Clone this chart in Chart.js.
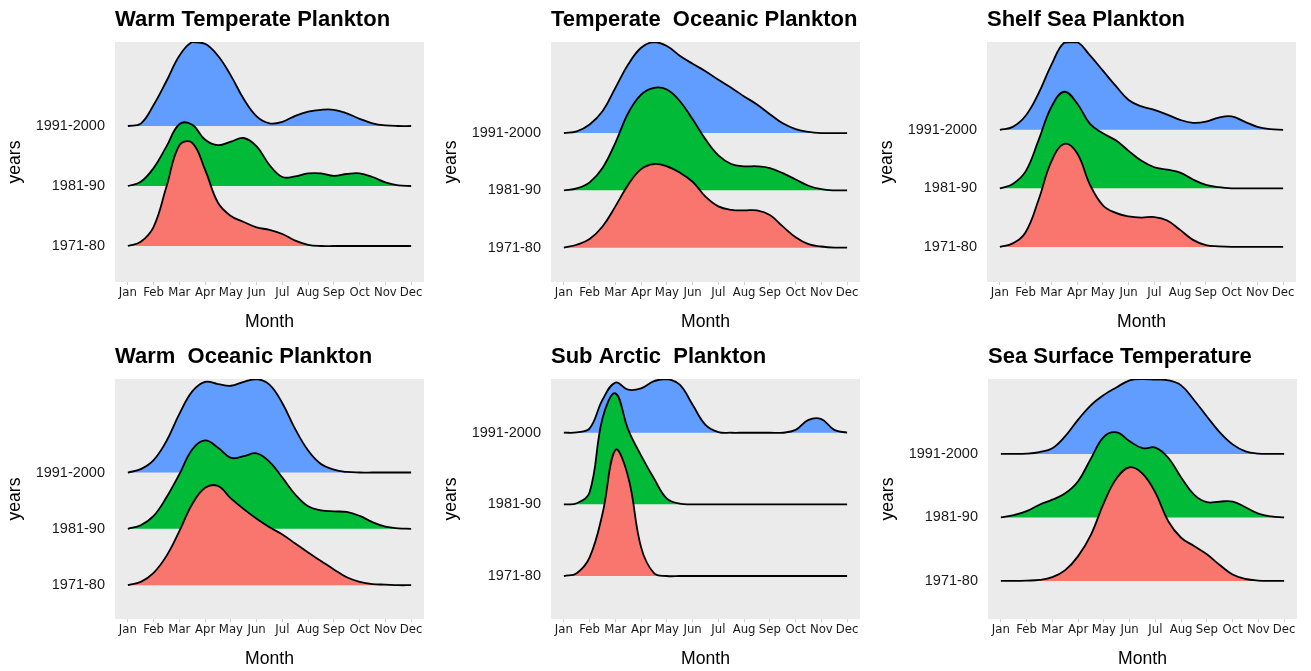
<!DOCTYPE html>
<html>
<head>
<meta charset="utf-8">
<title>Plankton ridgelines</title>
<script src="https://cdn.jsdelivr.net/npm/chart.js@4.4.0/dist/chart.umd.min.js"></script>
<style>
  html, body { margin: 0; padding: 0; background: #fff; overflow: hidden; }
  .panel { position: absolute; width: 436px; height: 335px; }
</style>
</head>
<body>
<div class="panel" style="left:0;top:0"><canvas id="c0"></canvas></div>
<div class="panel" style="left:436px;top:0"><canvas id="c1"></canvas></div>
<div class="panel" style="left:872px;top:0"><canvas id="c2"></canvas></div>
<div class="panel" style="left:0;top:337px"><canvas id="c3"></canvas></div>
<div class="panel" style="left:436px;top:337px"><canvas id="c4"></canvas></div>
<div class="panel" style="left:873px;top:337px"><canvas id="c5"></canvas></div>
<script>
const months = ['Jan', 'Feb', 'Mar', 'Apr', 'May', 'Jun', 'Jul', 'Aug', 'Sep', 'Oct', 'Nov', 'Dec'];
const yearLabels = ['1971-80', '1981-90', '1991-2000'];
// month positions where the ridge heights were read (Jan = 1)
const samplePoints = [1, 1.5, 2, 2.5, 3, 3.5, 4, 4.5, 5, 5.5, 6, 6.5, 7, 7.5, 8, 8.5, 9, 9.5, 10, 10.5, 11, 11.5, 12];

// ridge heights, in units of the gap between two year rows
const warmTemperate71 = [0, 0.07, 0.32, 0.99, 1.68, 1.72, 1.27, 0.72, 0.50, 0.40, 0.31, 0.27, 0.20, 0.09, 0.02, 0, 0, 0, 0, 0, 0, 0, 0];
const warmTemperate81 = [0, 0.07, 0.30, 0.66, 1.03, 1.02, 0.77, 0.68, 0.74, 0.80, 0.66, 0.35, 0.15, 0.16, 0.21, 0.21, 0.17, 0.20, 0.21, 0.15, 0.06, 0.01, 0];
const warmTemperate91 = [0, 0.04, 0.35, 0.75, 1.17, 1.40, 1.37, 1.17, 0.84, 0.45, 0.16, 0.045, 0.07, 0.17, 0.24, 0.27, 0.27, 0.21, 0.12, 0.045, 0.01, 0, 0];

const temperateOceanic71 = [0, 0.05, 0.15, 0.37, 0.72, 1.10, 1.37, 1.46, 1.42, 1.31, 1.15, 0.89, 0.72, 0.66, 0.65, 0.65, 0.57, 0.37, 0.18, 0.06, 0.02, 0, 0];
const temperateOceanic81 = [0, 0.035, 0.14, 0.39, 0.83, 1.35, 1.67, 1.79, 1.76, 1.56, 1.24, 0.89, 0.61, 0.46, 0.42, 0.42, 0.39, 0.30, 0.19, 0.08, 0.02, 0, 0];
const temperateOceanic91 = [0, 0.03, 0.15, 0.38, 0.79, 1.20, 1.49, 1.59, 1.52, 1.35, 1.21, 1.08, 0.93, 0.79, 0.64, 0.50, 0.33, 0.17, 0.07, 0.02, 0, 0, 0];

const shelfSea71 = [0, 0.06, 0.25, 0.80, 1.46, 1.76, 1.60, 1.06, 0.71, 0.58, 0.52, 0.50, 0.51, 0.45, 0.29, 0.12, 0.03, 0.01, 0, 0, 0, 0, 0];
const shelfSea81 = [0, 0.075, 0.29, 0.82, 1.39, 1.65, 1.45, 1.10, 0.94, 0.82, 0.64, 0.47, 0.36, 0.32, 0.27, 0.15, 0.06, 0.02, 0, 0, 0, 0, 0];
const shelfSea91 = [0, 0.05, 0.24, 0.62, 1.11, 1.49, 1.50, 1.27, 1.01, 0.75, 0.51, 0.40, 0.34, 0.26, 0.17, 0.12, 0.14, 0.21, 0.23, 0.14, 0.05, 0.01, 0];

const warmOceanic71 = [0, 0.06, 0.22, 0.52, 0.96, 1.44, 1.73, 1.76, 1.54, 1.35, 1.18, 1.03, 0.90, 0.74, 0.58, 0.43, 0.28, 0.14, 0.06, 0.02, 0.01, 0, 0];
const warmOceanic81 = [0, 0.065, 0.23, 0.56, 0.97, 1.41, 1.57, 1.44, 1.26, 1.29, 1.34, 1.19, 0.91, 0.61, 0.40, 0.33, 0.31, 0.30, 0.23, 0.12, 0.04, 0.01, 0];
const warmOceanic91 = [0, 0.06, 0.22, 0.56, 1.04, 1.44, 1.61, 1.57, 1.54, 1.61, 1.66, 1.56, 1.23, 0.77, 0.39, 0.15, 0.05, 0.01, 0, 0, 0, 0, 0];

const subArctic71 = [0, 0.04, 0.26, 0.87, 1.76, 1.38, 0.40, 0.04, 0, 0, 0, 0, 0, 0, 0, 0, 0, 0, 0, 0, 0, 0, 0];
const subArctic81 = [0, 0.015, 0.17, 1.20, 1.55, 1.04, 0.68, 0.36, 0.08, 0.01, 0, 0, 0, 0, 0, 0, 0, 0, 0, 0, 0, 0, 0];
const subArctic91 = [0, 0.005, 0.06, 0.46, 0.70, 0.60, 0.62, 0.72, 0.75, 0.67, 0.39, 0.11, 0.01, 0, 0, 0, 0, 0, 0.04, 0.18, 0.19, 0.04, 0];

const seaTemp71 = [0, 0, 0.005, 0.015, 0.06, 0.17, 0.39, 0.73, 1.23, 1.62, 1.79, 1.69, 1.39, 0.94, 0.68, 0.55, 0.42, 0.25, 0.10, 0.03, 0.005, 0, 0];
const seaTemp81 = [0, 0.035, 0.10, 0.20, 0.28, 0.38, 0.57, 0.93, 1.27, 1.34, 1.20, 1.09, 1.10, 0.94, 0.63, 0.36, 0.24, 0.25, 0.25, 0.16, 0.06, 0.015, 0];
const seaTemp91 = [0, 0, 0.005, 0.03, 0.09, 0.28, 0.54, 0.77, 0.93, 1.05, 1.16, 1.18, 1.17, 1.16, 1.08, 0.85, 0.59, 0.34, 0.15, 0.04, 0.005, 0, 0];

const fillColours = ['#F8766D', '#00BA38', '#619CFF'];

Chart.defaults.font.family = "'Liberation Sans', Arial, sans-serif";
Chart.defaults.color = '#1a1a1a';

// grey panel behind the ridges
const panelBackground = {
    id: 'panelBackground',
    beforeDraw(chart) {
        const { ctx, chartArea: a } = chart;
        ctx.save();
        ctx.fillStyle = '#EBEBEB';
        ctx.fillRect(a.left, a.top, a.width, a.height);
        ctx.restore();
    }
};

function makeRidgeChart(canvasId, title, series) {
    const yMax = Math.max(...series.map((s, i) => i + 1 + Math.max(...s)));

    const datasets = series.map((s, i) => ({
        label: yearLabels[i],
        data: s.map((h, k) => ({ x: samplePoints[k], y: i + 1 + h })),
        fill: { value: i + 1 },
        backgroundColor: fillColours[i],
        borderColor: '#000',
        borderWidth: 1.8,
        pointRadius: 0,
        tension: 0.4,
        order: i // lower rows are drawn on top
    }));

    return new Chart(document.getElementById(canvasId), {
        type: 'line',
        data: { datasets },
        plugins: [panelBackground],
        options: {
            responsive: true,
            maintainAspectRatio: false,
            animation: false,
            layout: { padding: { right: 12 } },
            plugins: {
                legend: { display: false },
                tooltip: { enabled: false },
                title: {
                    display: true,
                    text: title,
                    align: 'start',
                    fullSize: false,
                    color: '#000',
                    font: { size: 22, weight: 'bold' },
                    padding: { top: 6.5, bottom: 9.1 }
                }
            },
            scales: {
                x: {
                    type: 'linear',
                    min: 0.5,
                    max: 12.5,
                    afterBuildTicks: (scale) => { scale.ticks = months.map((m, k) => ({ value: k + 1 })); },
                    afterFit: (scale) => { scale.height = 53; },
                    ticks: {
                        callback: (value, index) => months[index],
                        autoSkip: false,
                        maxRotation: 0,
                        padding: 0,
                        font: { family: "'DejaVu Sans Condensed', 'Liberation Sans', sans-serif", size: 13 }
                    },
                    grid: { drawOnChartArea: false, tickLength: 3, color: '#cfcfcf' },
                    border: { display: false },
                    title: {
                        display: true,
                        text: 'Month',
                        color: '#000',
                        font: { size: 17.6 },
                        padding: { top: 0, bottom: 2.5 }
                    }
                },
                y: {
                    type: 'linear',
                    min: 0.4,
                    max: yMax,
                    afterBuildTicks: (scale) => { scale.ticks = yearLabels.map((l, k) => ({ value: k + 1 })); },
                    afterFit: (scale) => { scale.width = 115; },
                    ticks: {
                        callback: (value, index) => yearLabels[index],
                        autoSkip: false,
                        padding: 10,
                        font: { size: 14.5 }
                    },
                    grid: { display: false, drawTicks: false },
                    border: { display: false },
                    title: {
                        display: true,
                        text: 'years',
                        color: '#000',
                        font: { size: 17.6 },
                        padding: { top: 4.3, bottom: 0 }
                    }
                }
            }
        }
    });
}

makeRidgeChart('c0', 'Warm Temperate Plankton', [warmTemperate71, warmTemperate81, warmTemperate91]);
makeRidgeChart('c1', 'Temperate  Oceanic Plankton', [temperateOceanic71, temperateOceanic81, temperateOceanic91]);
makeRidgeChart('c2', 'Shelf Sea Plankton', [shelfSea71, shelfSea81, shelfSea91]);
makeRidgeChart('c3', 'Warm  Oceanic Plankton', [warmOceanic71, warmOceanic81, warmOceanic91]);
makeRidgeChart('c4', 'Sub Arctic  Plankton', [subArctic71, subArctic81, subArctic91]);
makeRidgeChart('c5', 'Sea Surface Temperature', [seaTemp71, seaTemp81, seaTemp91]);
</script>
</body>
</html>
